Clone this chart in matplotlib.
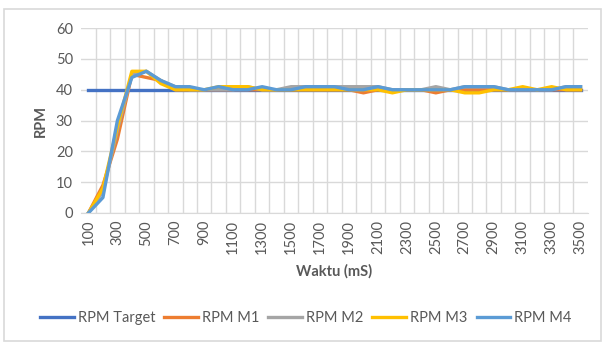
import matplotlib.pyplot as plt
from matplotlib.patches import Rectangle

plt.rcParams['font.family'] = ['Lato', 'DejaVu Sans']
plt.rcParams['hatch.color'] = '#e6e6e6'
plt.rcParams['hatch.linewidth'] = 0.5

# waktu (mS): 100 .. 3500 step 100
waktu = [str(t) for t in range(100, 3600, 100)]

rpm_target = [40] * 35
rpm_m1 = [0, 9, 24, 45, 44, 43, 40, 40, 40, 40, 40, 40, 40, 40, 40, 40, 40, 40, 40,
          39, 40, 40, 40, 40, 39, 40, 40, 40, 40, 40, 40, 40, 40, 40, 40]
rpm_m2 = [0, 7, 27, 45, 46, 43, 41, 40, 40, 40, 40, 41, 40, 40, 41, 41, 41, 41, 41,
          41, 41, 40, 40, 40, 41, 40, 41, 41, 41, 40, 40, 40, 40, 41, 41]
rpm_m3 = [0, 8, 28, 46, 46, 42, 40, 40, 40, 41, 41, 41, 40, 40, 40, 40, 40, 40, 40,
          40, 40, 39, 40, 40, 40, 40, 39, 39, 40, 40, 41, 40, 41, 40, 40]
rpm_m4 = [0, 5, 30, 44, 46, 43, 41, 41, 40, 41, 40, 40, 41, 40, 40, 41, 41, 41, 40,
          40, 41, 40, 40, 40, 40, 40, 41, 41, 41, 40, 40, 40, 40, 41, 41]

series = [
    ('RPM Target', rpm_target, '#4472C4'),
    ('RPM M1', rpm_m1, '#ED7D31'),
    ('RPM M2', rpm_m2, '#A5A5A5'),
    ('RPM M3', rpm_m3, '#FFC000'),
    ('RPM M4', rpm_m4, '#5B9BD5'),
]

fig = plt.figure(figsize=(6.06, 3.52), dpi=100)
# outer chart border
fig.patches.append(Rectangle((0.006, 0.03), 0.985, 0.945, transform=fig.transFigure,
                             fill=False, edgecolor='#d9d9d9', linewidth=1.2))

ax = fig.add_axes([0.134, 0.395, 0.836, 0.525])
ax.patch.set_facecolor('white')
ax.patch.set_hatch('//////////')

x = list(range(len(waktu)))
for label, vals, col in series:
    ax.plot(x, vals, color=col, linewidth=2.4, label=label, solid_joinstyle='round')

ax.set_xlim(-0.5, len(waktu) - 0.5)
ax.set_ylim(0, 60)
ax.set_yticks(range(0, 61, 10))
ax.set_xticks(x[::2])
ax.set_xticklabels(waktu[::2], rotation=90)
# vertical gridlines between categories
ax.set_xticks([i + 0.5 for i in x[:-1]], minor=True)

ax.grid(axis='y', color='#d9d9d9', linewidth=1)
ax.grid(axis='x', which='minor', color='#d9d9d9', linewidth=1)
ax.set_axisbelow(True)

for s in ['top', 'right', 'left']:
    ax.spines[s].set_visible(False)
ax.spines['bottom'].set_color('#d9d9d9')
ax.tick_params(axis='both', which='both', length=0, colors='#595959', labelsize=10.5)
ax.tick_params(axis='y', pad=6)
ax.tick_params(axis='x', pad=5)

ax.set_ylabel('RPM', fontsize=10.5, fontweight='bold', color='#595959', labelpad=6)
ax.set_xlabel('Waktu (mS)', fontsize=10.5, fontweight='bold', color='#595959', labelpad=7)

fig.legend(loc='center', bbox_to_anchor=(0.505, 0.097), ncol=5, frameon=False,
           fontsize=10.5, labelcolor='#595959', handlelength=2.3, handletextpad=0.3,
           columnspacing=0.6)

fig.savefig('out.png', dpi=100)
